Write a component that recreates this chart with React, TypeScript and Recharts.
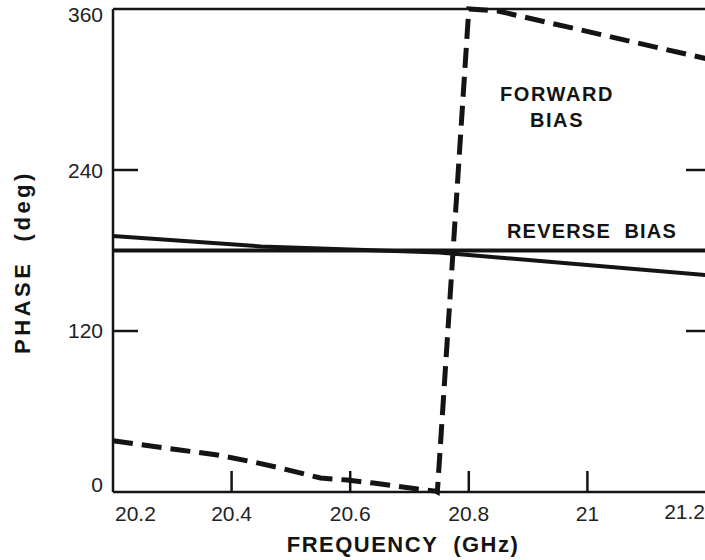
import React from 'react';
import { LineChart, Line, XAxis, YAxis } from 'recharts';

// axis values
const FREQ_TICKS = [20.2, 20.4, 20.6, 20.8, 21, 21.2];
const PHASE_TICKS = [0, 120, 240, 360];

// forward bias (dashed)
const forwardFreq = [20.2, 20.313, 20.376, 20.436, 20.482, 20.55, 20.595, 20.639, 20.714, 20.744, 20.747, 20.8, 20.849, 21.2];
const forwardPhase = [38.2, 31.3, 27.6, 22.4, 17.9, 10.4, 8.9, 6.7, 2.2, 0.7, 0, 360, 358.5, 323];

// reverse bias (solid), two traces
const flatFreq = [20.2, 21.2];
const flatPhase = [180, 180];
const slopeFreq = [20.2, 20.45, 20.75, 21.2];
const slopePhase = [190.8, 183, 178.5, 161.7];

const INK = '#141414';
const TEXT = '#222';
const NUM_FONT = '"Liberation Sans", Arial, sans-serif';

const zip = (f: number[], p: number[]) => f.map((v, i) => ({ f: v, p: p[i] }));
const forwardData = zip(forwardFreq, forwardPhase);
const flatData = zip(flatFreq, flatPhase);
const slopeData = zip(slopeFreq, slopePhase);

const BottomTick = (props: any) => {
  const { x, y, payload } = props;
  const v = payload.value;
  const first = v === FREQ_TICKS[0];
  const last = v === FREQ_TICKS[FREQ_TICKS.length - 1];
  const anchor = first ? 'start' : last ? 'end' : 'middle';
  const tx = first ? x + 2 : last ? x - 1 : x;
  return (
    <g>
      {!first && !last && <line x1={x} y1={y} x2={x} y2={y - 21} stroke={INK} strokeWidth={2.5} />}
      <text x={tx} y={y + (last ? 27 : 29)} textAnchor={anchor} fontSize={21} fill={TEXT} fontFamily={NUM_FONT}>
        {v}
      </text>
    </g>
  );
};

const TopTick = (props: any) => {
  const { x, y, payload } = props;
  const v = payload.value;
  if (v === FREQ_TICKS[0] || v === FREQ_TICKS[FREQ_TICKS.length - 1]) return <g />;
  return <line x1={x} y1={y} x2={x} y2={y + 22} stroke={INK} strokeWidth={2.5} />;
};

const LEFT_DY: Record<number, number> = { 0: 0, 120: 7, 240: 8, 360: 13 };

const LeftTick = (props: any) => {
  const { x, y, payload } = props;
  const v = payload.value;
  const inner = v !== 0 && v !== 360;
  return (
    <g>
      {inner && <line x1={x} y1={y} x2={x + 25} y2={y} stroke={INK} strokeWidth={2.5} />}
      <text x={x - 10} y={y + (LEFT_DY[v] ?? 7)} textAnchor="end" fontSize={21} fill={TEXT} fontFamily={NUM_FONT}>
        {v}
      </text>
    </g>
  );
};

const RightTick = (props: any) => {
  const { x, y, payload } = props;
  const v = payload.value;
  if (v === 0 || v === 360) return <g />;
  return <line x1={x} y1={y} x2={x - 20} y2={y} stroke={INK} strokeWidth={2.5} />;
};

const note: React.CSSProperties = {
  position: 'absolute',
  transform: 'translate(-50%, -50%)',
  fontFamily: '"Liberation Sans", Arial, sans-serif',
  fontWeight: 700,
  color: INK,
  whiteSpace: 'pre',
  lineHeight: 1,
};

export default function App() {
  return (
    <div style={{ position: 'absolute', left: 0, top: 0, width: 705, height: 560, overflow: 'hidden', background: '#fff' }}>
      <div style={{ position: 'absolute', left: 8, top: 0 }}>
        <LineChart width={720} height={560} margin={{ top: 8, right: 2, bottom: 0, left: 0 }}>
          <XAxis
            dataKey="f"
            type="number"
            domain={[20.2, 21.2]}
            ticks={FREQ_TICKS}
            interval={0}
            height={68}
            tickSize={0}
            tickMargin={0}
            tickLine={false}
            axisLine={{ stroke: INK, strokeWidth: 2.5 }}
            tick={<BottomTick />}
          />
          <XAxis
            xAxisId="top"
            orientation="top"
            type="number"
            domain={[20.2, 21.2]}
            ticks={FREQ_TICKS}
            interval={0}
            height={1}
            tickSize={0}
            tickMargin={0}
            tickLine={false}
            axisLine={{ stroke: INK, strokeWidth: 2.5 }}
            tick={<TopTick />}
          />
          <YAxis
            type="number"
            domain={[0, 360]}
            ticks={PHASE_TICKS}
            interval={0}
            width={105}
            tickSize={0}
            tickMargin={0}
            tickLine={false}
            axisLine={{ stroke: INK, strokeWidth: 2.5 }}
            tick={<LeftTick />}
          />
          <YAxis
            yAxisId="right"
            orientation="right"
            type="number"
            domain={[0, 360]}
            ticks={PHASE_TICKS}
            interval={0}
            width={20}
            tickSize={0}
            tickMargin={0}
            tickLine={false}
            axisLine={false}
            tick={<RightTick />}
          />
          <Line
            yAxisId="right"
            data={flatData}
            dataKey="p"
            stroke={INK}
            strokeWidth={4}
            dot={false}
            isAnimationActive={false}
          />
          <Line data={slopeData} dataKey="p" stroke={INK} strokeWidth={4} dot={false} isAnimationActive={false} />
          <Line
            data={forwardData}
            dataKey="p"
            stroke={INK}
            strokeWidth={5}
            strokeDasharray="20 9"
            dot={false}
            isAnimationActive={false}
          />
        </LineChart>
      </div>

      <div style={{ ...note, left: 557, top: 94, fontSize: 20, letterSpacing: 1.6 }}>FORWARD</div>
      <div style={{ ...note, left: 557, top: 120, fontSize: 20, letterSpacing: 1.6 }}>BIAS</div>
      <div style={{ ...note, left: 592, top: 231, fontSize: 20, letterSpacing: 1.2 }}>REVERSE  BIAS</div>
      <div style={{ ...note, left: 403, top: 545, fontSize: 22, letterSpacing: 1.5 }}>FREQUENCY  (GHz)</div>
      <div
        style={{
          ...note,
          left: 23,
          top: 262,
          fontSize: 22,
          letterSpacing: 3.5,
          transform: 'translate(-50%, -50%) rotate(-90deg)',
        }}
      >
        PHASE  (deg)
      </div>
    </div>
  );
}
